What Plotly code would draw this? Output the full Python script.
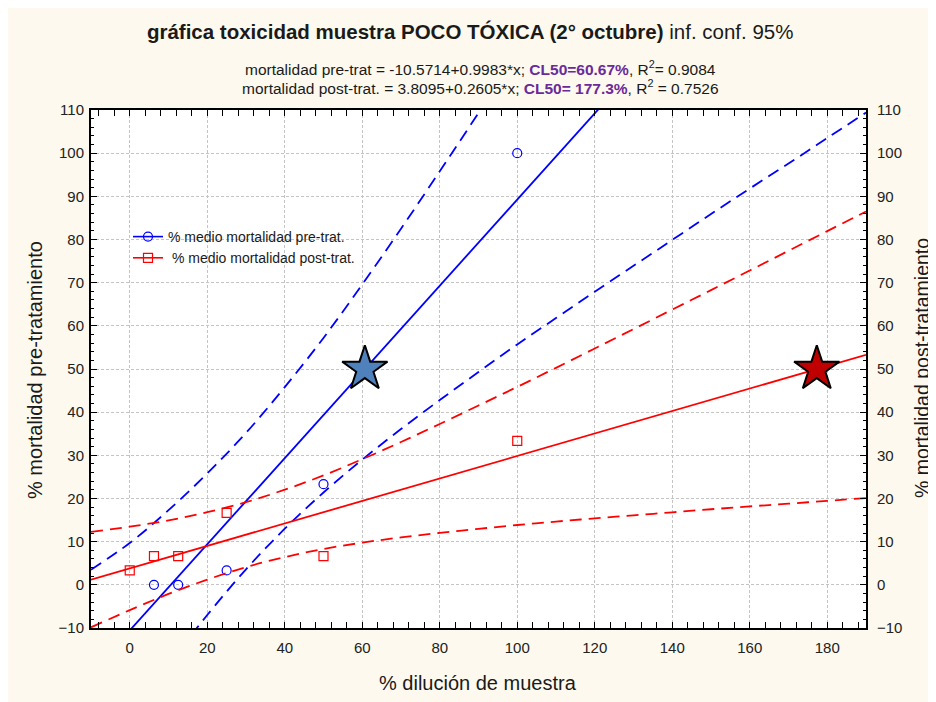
import plotly.graph_objects as go

# ---------------- data ----------------
dil_pre = [6.25, 12.5, 25, 50, 100]
mort_pre = [0, 0, 3.33, 23.33, 100]

dil_post = [0, 6.25, 12.5, 25, 50, 100]
mort_post = [3.33, 6.67, 6.67, 16.67, 6.67, 33.33]

# fitted lines (end points read at x=-10 and x=190)
fit_x = [-10, 190]
fit_pre = [-20.55, 179.1]
fit_post = [1.20, 53.30]

# 95% confidence bands
band_x = [-10, 0, 10, 20, 30, 40, 50, 60, 70, 80, 90, 100, 110, 120, 130, 140, 150, 160, 170, 180, 190]
pre_upper = [3.5, 9.7, 17.3, 25.8, 35.2, 45.8, 57.2, 69.6, 82.5, 95.8, 109.3, 122.9, 136.6, 150.5,
             164.5, 178.5, 192.5, 206.6, 220.6, 234.7, 248.8]
pre_lower = [-43.8, -30.9, -18.5, -7.0, 3.6, 13.0, 21.4, 29.0, 36.1, 42.8, 49.3, 55.7, 61.8, 67.9,
             73.9, 79.9, 85.9, 91.8, 97.6, 103.5, 109.4]
post_upper = [12.25, 13.48, 14.93, 16.83, 19.14, 22.04, 25.35, 29.11, 33.09, 37.27, 41.54, 45.86,
              50.27, 54.74, 59.24, 63.76, 68.27, 72.82, 77.38, 81.94, 86.49]
post_lower = [-9.85, -5.86, -2.11, 1.21, 4.10, 6.42, 8.31, 9.77, 10.99, 12.03, 12.96, 13.86,
              14.65, 15.40, 16.10, 16.80, 17.51, 18.16, 18.80, 19.46, 20.11]

cl50_x = [60.67, 177.3]
cl50_y = [50, 50]

BLUE = "#0000FF"
RED = "#FF0000"
FONT = "Liberation Sans, Arial, sans-serif"
DASH = "12px,7px"

fig = go.Figure()

# blue (pre) traces on primary y
for yb in (pre_upper, pre_lower):
    fig.add_trace(go.Scatter(x=band_x, y=yb, mode="lines",
                             line=dict(color=BLUE, width=1.8, dash=DASH, shape="spline"),
                             showlegend=False, hoverinfo="skip"))
fig.add_trace(go.Scatter(x=fit_x, y=fit_pre, mode="lines", line=dict(color=BLUE, width=1.8), showlegend=False))
fig.add_trace(go.Scatter(x=dil_pre, y=mort_pre, mode="markers",
                         marker=dict(symbol="circle-open", size=9, color=BLUE, line=dict(width=1.2)),
                         showlegend=False))

# red (post) traces on secondary y
for yb in (post_upper, post_lower):
    fig.add_trace(go.Scatter(x=band_x, y=yb, mode="lines",
                             line=dict(color=RED, width=1.8, dash=DASH, shape="spline"),
                             showlegend=False, hoverinfo="skip", yaxis="y2"))
fig.add_trace(go.Scatter(x=fit_x, y=fit_post, mode="lines", line=dict(color=RED, width=1.8),
                         showlegend=False, yaxis="y2"))
fig.add_trace(go.Scatter(x=dil_post, y=mort_post, mode="markers",
                         marker=dict(symbol="square-open", size=9, color=RED, line=dict(width=1.2)),
                         showlegend=False, yaxis="y2"))

# CL50 stars
fig.add_trace(go.Scatter(x=[cl50_x[0]], y=[cl50_y[0]], mode="markers",
                         marker=dict(symbol="star", size=34, color="#4F81BD", line=dict(color="black", width=2)),
                         showlegend=False))
fig.add_trace(go.Scatter(x=[cl50_x[1]], y=[cl50_y[1]], mode="markers",
                         marker=dict(symbol="star", size=34, color="#C00000", line=dict(color="black", width=2)),
                         showlegend=False, yaxis="y2"))

# legend entries
fig.add_trace(go.Scatter(x=[None], y=[None], mode="lines+markers", name="% medio mortalidad pre-trat.",
                         line=dict(color=BLUE, width=1.6),
                         marker=dict(symbol="circle-open", size=9, color=BLUE, line=dict(width=1.2))))
fig.add_trace(go.Scatter(x=[None], y=[None], mode="lines+markers", name=" % medio mortalidad post-trat.",
                         line=dict(color=RED, width=1.6),
                         marker=dict(symbol="square-open", size=9, color=RED, line=dict(width=1.2))))

# the page places the figure 8px from the top-left corner
OFF = 8
W, H = 936 - OFF, 702 - OFF
L, R, T, B = 83, 70, 102, 74
pw, ph = W - L - R, H - T - B


def px(x):
    """reference-screen x -> paper fraction"""
    return (x - OFF - L) / pw


def py(y):
    """reference-screen y -> paper fraction"""
    return (H - B - (y - OFF)) / ph


axis_common = dict(
    showline=True, linecolor="black", linewidth=2,
    ticks="inside", ticklen=6, tickcolor="black", tickwidth=1,
    tickfont=dict(family=FONT, size=15, color="#222222"),
    zeroline=False,
)
minor_common = dict(ticks="inside", ticklen=3, tickcolor="black", tickwidth=1, showgrid=False)

fig.update_layout(
    width=W, height=H,
    margin=dict(l=L, r=R, t=T, b=B),
    paper_bgcolor="#FDF9EE",
    plot_bgcolor="white",
    font=dict(family=FONT, color="#1a1a1a"),
    title=dict(
        text="<b>gráfica toxicidad muestra POCO TÓXICA (2° octubre)</b> inf. conf. 95%",
        x=px(477), xanchor="center", y=1 - (32 - OFF) / H, yanchor="middle",
        font=dict(family=FONT, size=20.5, color="#1a1a1a"),
    ),
    xaxis=dict(
        range=[-10, 190], dtick=20, tick0=0,
        showgrid=True, gridcolor="#C4C4C4", griddash="3px,2px", gridwidth=1,
        mirror="allticks", ticklabelstandoff=5,
        minor=dict(dtick=4, tick0=0, **minor_common),
        **axis_common,
    ),
    yaxis=dict(
        range=[-10, 110], dtick=10, tick0=0,
        showgrid=True, gridcolor="#C4C4C4", griddash="3px,2px", gridwidth=1,
        ticklabelstandoff=2,
        minor=dict(dtick=2, tick0=0, **minor_common),
        **axis_common,
    ),
    yaxis2=dict(
        range=[-10, 110], dtick=10, tick0=0, overlaying="y", side="right",
        showgrid=False, ticklabelstandoff=6,
        minor=dict(dtick=2, tick0=0, **minor_common),
        **axis_common,
    ),
    legend=dict(
        x=px(128), y=py(221), xanchor="left", yanchor="top",
        bgcolor="rgba(0,0,0,0)", borderwidth=0,
        font=dict(family=FONT, size=14, color="#1a1a1a"),
        itemwidth=30, tracegroupgap=0,
    ),
    showlegend=True,
)

sub1 = ("mortalidad pre-trat = -10.5714+0.9983*x; "
        "<b><span style='color:#6A2A9A'>CL50=60.67%</span></b>, R<sup>2</sup>= 0.9084")
sub2 = ("mortalidad post-trat. = 3.8095+0.2605*x; "
        "<b><span style='color:#6A2A9A'>CL50= 177.3%</span></b>, R<sup>2</sup> = 0.7526")

annotations = [
    dict(text=sub1, x=px(481), y=py(68), xref="paper", yref="paper", showarrow=False,
         xanchor="center", yanchor="middle", font=dict(family=FONT, size=15.5, color="#1a1a1a")),
    dict(text=sub2, x=px(481), y=py(87), xref="paper", yref="paper", showarrow=False,
         xanchor="center", yanchor="middle", font=dict(family=FONT, size=15.5, color="#1a1a1a")),
    dict(text="% dilución de muestra", x=px(478), y=py(683), xref="paper", yref="paper", showarrow=False,
         xanchor="center", yanchor="middle", font=dict(family=FONT, size=20, color="#1a1a1a")),
    dict(text="% mortalidad pre-tratamiento", x=px(35), y=py(370), xref="paper", yref="paper", showarrow=False,
         textangle=-90, xanchor="center", yanchor="middle", font=dict(family=FONT, size=20, color="#1a1a1a")),
    dict(text="% mortalidad post-tratamiento", x=px(922), y=py(368), xref="paper", yref="paper", showarrow=False,
         textangle=-90, xanchor="center", yanchor="middle", font=dict(family=FONT, size=19.5, color="#1a1a1a")),
]
fig.update_layout(annotations=annotations)

fig.write_html("out.html")
